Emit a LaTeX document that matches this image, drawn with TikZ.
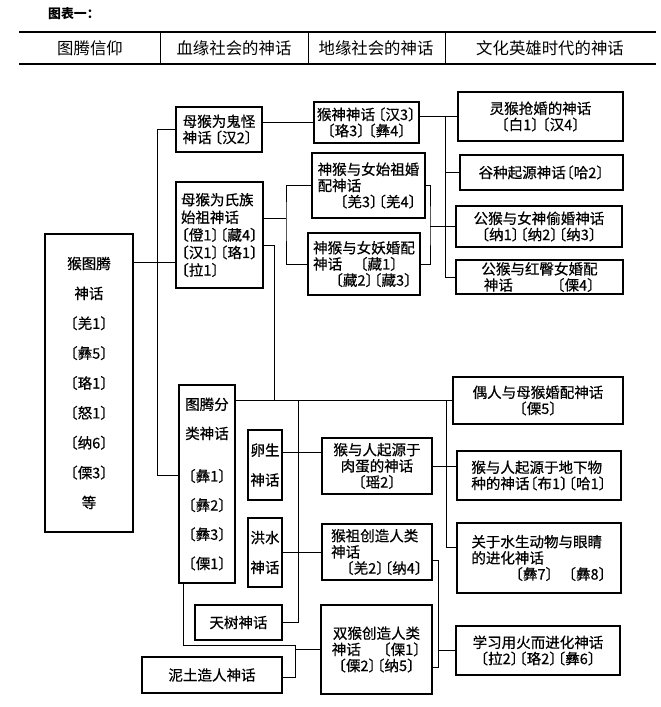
\documentclass[tikz,border=0pt]{standalone}
\usepackage{fontspec}
\setmainfont{Noto Sans CJK SC}
\newfontfamily\boxfont{Noto Sans CJK SC}[FakeBold=0.6]
\usepackage{xcolor}
\usepackage{tikz}

\newcommand{\bkt}[1]{\makebox[.55em][r]{〔}#1\makebox[.55em][l]{〕}}

\tikzset{
  box/.style={draw, line width=0.9pt, inner sep=1pt, align=center,
              font=\boxfont\fontsize{12.4}{13.8}\selectfont},
  boxl/.style={box, align=left},
  hdr/.style={font=\fontsize{14}{16}\selectfont},
  conn/.style={line width=0.8pt},
  rule/.style={line width=1.2pt}
}

\begin{document}
\begin{tikzpicture}[x=0.03cm, y=-0.03cm]
  \useasboundingbox (0,0) rectangle (660,707);

  % title and header row
  \node[font=\bfseries\fontsize{11}{13}\selectfont, anchor=west] (title) at (44,14) {图表一：};
  \draw[rule] (19,32) -- (656,32);
  \draw[rule] (19,64) -- (656,64);
  \foreach \x in {160,308,445} \draw[conn] (\x,32) -- (\x,64);
  \node[hdr] (h1) at (90,48) {图腾信仰};
  \node[hdr] (h2) at (234,48) {血缘社会的神话};
  \node[hdr] (h3) at (376,48) {地缘社会的神话};
  \node[hdr] (h4) at (550,48) {文化英雄时代的神话};

  % totem column
  \node[box, minimum width=2.64cm, minimum height=8.94cm, font=\boxfont\fontsize{12.4}{25.5}\selectfont]
    (totem) at (89,383) {猴图腾\\神话\\\bkt{羌1}\\\bkt{彝5}\\\bkt{珞1}\\\bkt{怒1}\\\bkt{纳6}\\\bkt{傈3}\\等};

  % blood-kin column
  \node[boxl, minimum width=2.58cm, minimum height=1.35cm] (ghost) at (219,129.5) {母猴为鬼怪\\神话\,\bkt{汉2}};
  \node[boxl, minimum width=2.61cm, minimum height=3.18cm, font=\boxfont\fontsize{12.4}{15}\selectfont]
    (clan) at (219.5,235) {母猴为氏族\\始祖神话\\\bkt{僜1}\bkt{藏4}\\\bkt{汉1}\bkt{珞1}\\\bkt{拉1}};
  \node[box, minimum width=1.68cm, minimum height=5.94cm, font=\boxfont\fontsize{12.4}{24.9}\selectfont]
    (fenlei) at (207,484) {图腾分\\类神话\\[0.4cm]\bkt{彝1}\\\bkt{彝2}\\\bkt{彝3}\\\bkt{傈1}};
  \node[box, minimum width=1.02cm, minimum height=2.1cm, font=\boxfont\fontsize{12.4}{25.5}\selectfont]
    (luansheng) at (265,465) {卵生\\神话};
  \node[box, minimum width=1.02cm, minimum height=2.07cm, font=\boxfont\fontsize{12.4}{25.5}\selectfont]
    (hongshui) at (265,552.5) {洪水\\神话};
  \node[box, minimum width=2.61cm, minimum height=1.05cm] (tianshu) at (238.5,622.5) {天树神话};
  \node[box, minimum width=4.2cm, minimum height=1.08cm] (nitu) at (212,675) {泥土造人神话};

  % territorial column
  \node[box, minimum width=3.15cm, minimum height=1.23cm] (houshen) at (366.5,122.5) {猴神神话\,\bkt{汉3}\\\bkt{珞3}\,\bkt{彝4}};
  \node[boxl, minimum width=3.39cm, minimum height=1.95cm] (shizu) at (368.5,185.5) {神猴与女始祖婚\\配神话\\\hspace{1.5em}\bkt{羌3}\bkt{羌4}};
  \node[boxl, minimum width=3.36cm, minimum height=1.86cm] (yao) at (364,264) {神猴与女妖婚配\\神话\hspace{1.2em}\bkt{藏1}\\\hspace{1.5em}\bkt{藏2}\bkt{藏3}};
  \node[box, minimum width=3.3cm, minimum height=1.68cm] (roudan) at (377,466) {猴与人起源于\\肉蛋的神话\\\bkt{瑶2}};
  \node[boxl, minimum width=3.3cm, minimum height=1.68cm] (houzu) at (377,552) {猴祖创造人类\\神话\\\hspace{1em}\bkt{羌2}\bkt{纳4}};
  \node[box, minimum width=3.33cm, minimum height=2.67cm] (shuanghou) at (376.5,649.5) {双猴创造人类\\神话\hspace{1.5em}\bkt{傈1}\\\bkt{傈2}\bkt{纳5}};

  % culture-hero column
  \node[box, minimum width=4.95cm, minimum height=1.47cm] (linghou) at (540.5,116.5) {灵猴抢婚的神话\\\bkt{白1}\,\bkt{汉4}};
  \node[box, minimum width=4.89cm, minimum height=1.05cm] (guzhong) at (541.5,172.5) {谷种起源神话\bkt{哈2}};
  \node[box, minimum width=4.98cm, minimum height=1.23cm] (touhun) at (539,226.5) {公猴与女神偷婚神话\\\bkt{纳1}\bkt{纳2}\bkt{纳3}};
  \node[box, minimum width=5.01cm, minimum height=1.02cm] (hongtun) at (539.5,277) {公猴与红臀女婚配\\神话\hspace{3em}\bkt{傈4}};
  \node[box, minimum width=5.1cm, minimum height=1.41cm] (ouren) at (538,400.5) {偶人与母猴婚配神话\\\bkt{傈5}};
  \node[boxl, minimum width=4.92cm, minimum height=1.47cm] (dixia) at (539,475.5) {猴与人起源于地下物\\种的神话\bkt{布1}\bkt{哈1}};
  \node[boxl, minimum width=4.92cm, minimum height=2.1cm] (shuisheng) at (539,558) {关于水生动物与眼睛\\的进化神话\\\hspace{3em}\bkt{彝7}\hspace{1em}\bkt{彝8}};
  \node[box, minimum width=4.92cm, minimum height=1.47cm] (huo) at (538,650.5) {学习用火而进化神话\\\bkt{拉2}\bkt{珞2}\bkt{彝6}};

  % junctions
  \coordinate (lbus) at (157,475);
  \coordinate (tj) at (157,262);
  \coordinate (rbus) at (445,116.5);
  \coordinate (mb) at (430,226.5);
  \coordinate (lb) at (286,218);
  \coordinate (kb) at (274,245);
  \coordinate (vb) at (298,452);
  \coordinate (rb) at (446,547);
  \coordinate (qa) at (438,560);
  \coordinate (qb) at (438,667);
  \coordinate (pa) at (183,645);
  \coordinate (pb) at (295,677);

  % connectors
  \draw[conn] (ghost.west) -| (lbus) -- (lbus -| fenlei.west);
  \draw[conn] (tj -| totem.east) -- (tj -| clan.west);
  \draw[conn] (ghost.east |- houshen.west) -- (houshen.west);
  \draw[conn] (houshen.east |- linghou.west) -- (linghou.west);
  \draw[conn] (rbus) |- (hongtun.west);
  \draw[conn] (guzhong.west -| rbus) -- (guzhong.west);
  \draw[conn] (shizu.east) -| (mb) |- (yao.east);
  \draw[conn] (mb) -- (touhun.west);
  \draw[conn] (shizu.west) -| (lb) |- (yao.west);
  \draw[conn] (lb) -- (lb -| clan.east);
  \draw[conn] (kb -| clan.east) -- (kb) -- (kb |- ouren.west);
  \draw[conn] (fenlei.east |- ouren.west) -- (ouren.west);
  \draw[conn] (vb |- ouren.west) -- (vb |- tianshu.east) -- (tianshu.east);
  \draw[conn] (vb -| luansheng.east) -- (vb -| roudan.west);
  \draw[conn] (hongshui.east) -- (hongshui.east -| houzu.west);
  \draw[conn] (rb |- ouren.west) -- (rb) -- (rb -| shuisheng.west);
  \draw[conn] (roudan.east) -- (roudan.east -| dixia.west);
  \draw[conn] (qa -| houzu.east) -- (qa) -- (qb) -- (qb -| shuanghou.east);
  \draw[conn] (qa |- huo.west) -- (huo.west);
  \draw[conn] (pa |- fenlei.south) -- (pa) -| (pb) -- (pb -| nitu.east);
  \draw[conn] (pb |- shuanghou.west) -- (shuanghou.west);
\end{tikzpicture}
\end{document}
